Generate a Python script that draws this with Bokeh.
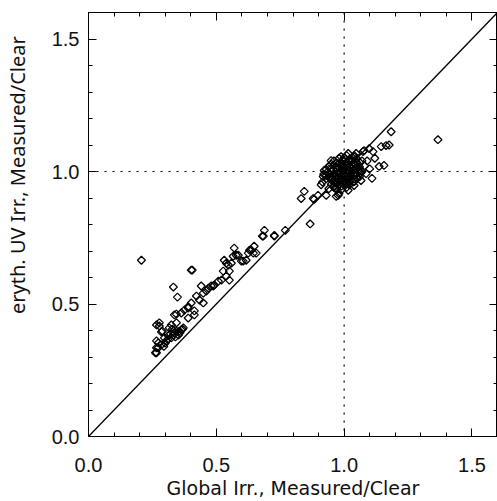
import numpy as np
from bokeh.plotting import figure
from bokeh.models import Range1d, LinearAxis, Span, Slope, FixedTicker
from bokeh.embed import file_html
from bokeh.resources import INLINE

# ---------------- data ----------------
# lower branch (cloudy cases)
low_x = [0.207, 0.262, 0.266, 0.273, 0.266, 0.277, 0.289, 0.266, 0.273, 0.266, 0.285, 0.297,
         0.305, 0.312, 0.324, 0.332, 0.336, 0.344, 0.352, 0.355, 0.363, 0.371, 0.316, 0.277,
         0.285, 0.344, 0.336, 0.363, 0.375, 0.390, 0.402, 0.390, 0.414, 0.422, 0.434, 0.441,
         0.449, 0.461, 0.469, 0.480, 0.492, 0.508, 0.520, 0.527, 0.539, 0.551, 0.551, 0.531,
         0.539, 0.547, 0.570, 0.586, 0.598, 0.617, 0.637, 0.656, 0.648, 0.332, 0.348, 0.402,
         0.406, 0.324, 0.344, 0.390, 0.414, 0.449, 0.488, 0.566, 0.605, 0.625, 0.645, 0.684,
         0.688, 0.727, 0.727, 0.770, 0.680, 0.630, 0.578, 0.559, 0.300, 0.310, 0.320, 0.340,
         0.358, 0.368, 0.295, 0.328]
low_y = [0.665, 0.316, 0.335, 0.353, 0.421, 0.429, 0.398, 0.361, 0.335, 0.316, 0.346, 0.372,
         0.361, 0.380, 0.372, 0.383, 0.391, 0.398, 0.383, 0.398, 0.402, 0.410, 0.410, 0.417,
         0.395, 0.429, 0.459, 0.466, 0.477, 0.485, 0.504, 0.447, 0.459, 0.530, 0.515, 0.568,
         0.541, 0.549, 0.560, 0.568, 0.571, 0.586, 0.590, 0.624, 0.605, 0.590, 0.624, 0.665,
         0.654, 0.647, 0.711, 0.684, 0.662, 0.665, 0.703, 0.692, 0.718, 0.564, 0.526, 0.628,
         0.628, 0.421, 0.462, 0.490, 0.474, 0.504, 0.568, 0.680, 0.662, 0.692, 0.692, 0.756,
         0.778, 0.759, 0.756, 0.778, 0.756, 0.703, 0.684, 0.654, 0.352, 0.366, 0.388, 0.376,
         0.392, 0.405, 0.340, 0.405]

# transition points
mid_x = [0.844, 0.832, 0.883, 0.930, 0.867, 0.898, 0.879, 0.977, 0.965, 0.969, 0.980, 1.016,
         0.910, 0.940]
mid_y = [0.925, 0.898, 0.895, 0.910, 0.802, 0.910, 0.898, 0.910, 0.936, 0.906, 0.917, 0.929,
         0.950, 0.935]

# clear-sky cluster near (1, 1)
clr_x = [0.98, 1.00, 1.02, 1.04, 0.95, 0.97, 0.99, 1.01, 1.03, 1.05, 1.07, 0.93, 0.95, 0.96,
         0.98, 1.00, 1.02, 1.04, 1.06, 1.08, 0.92, 0.94, 0.96, 0.98, 0.99, 1.01, 1.03, 1.05,
         1.07, 0.93, 0.95, 0.97, 0.99, 1.00, 1.02, 1.04, 1.06, 0.95, 0.97, 0.98, 1.00, 1.02,
         1.04, 0.97, 0.99, 1.01, 0.94, 0.96, 0.985, 1.005, 1.025, 1.045, 0.965, 0.975, 0.995,
         1.015, 1.035, 1.055, 0.945, 0.955, 1.065, 1.01, 0.99, 0.97, 1.03, 1.05, 0.93, 1.00,
         1.02, 0.96, 0.98, 1.04, 1.06, 0.99, 1.01,
         0.935, 0.945, 0.955, 0.965, 0.975, 0.985, 0.995, 1.005, 1.015, 1.025, 1.035, 1.045,
         0.950, 0.960, 0.970, 0.980, 0.990, 1.000, 1.010, 1.020, 1.030, 1.040, 1.050, 1.060,
         0.970, 0.980, 0.990, 1.000, 1.010, 1.020, 1.030, 1.040, 0.960, 0.990, 1.020, 1.050]
clr_y = [1.050, 1.052, 1.046, 1.055, 1.028, 1.032, 1.030, 1.035, 1.027, 1.033, 1.040, 1.008,
         1.012, 1.006, 1.014, 1.010, 1.016, 1.009, 1.018, 1.022, 0.990, 0.993, 0.988, 0.995,
         0.986, 0.992, 0.997, 0.990, 1.000, 0.972, 0.968, 0.975, 0.970, 0.966, 0.978, 0.972,
         0.980, 0.952, 0.955, 0.948, 0.950, 0.958, 0.962, 0.935, 0.932, 0.940, 1.020, 1.040,
         1.000, 0.980, 0.985, 1.025, 0.960, 0.995, 1.042, 1.002, 0.960, 1.005, 0.975, 0.985,
         0.995, 1.060, 1.020, 1.015, 1.045, 1.048, 0.985, 0.985, 1.000, 0.940, 0.965, 1.030,
         1.035, 1.005, 0.955,
         0.998, 0.980, 0.975, 0.982, 0.962, 0.960, 0.958, 0.955, 0.970, 0.968, 0.990, 0.995,
         1.000, 1.025, 1.012, 1.030, 1.018, 1.028, 1.022, 1.038, 1.012, 1.030, 1.015, 1.002,
         0.985, 0.998, 0.975, 1.020, 0.975, 1.005, 1.040, 0.985, 0.945, 0.945, 0.950, 0.975]

# points around the cluster edge / outliers
out_x = [1.367, 1.184, 1.145, 1.164, 1.176, 1.156, 1.137, 1.109, 1.047, 1.078, 1.113, 1.098,
         1.086, 1.066, 1.039, 0.918, 0.922, 0.949, 0.988, 1.016, 1.040, 1.074, 0.915, 1.090,
         1.120, 1.100]
out_y = [1.120, 1.150, 1.094, 1.098, 1.100, 1.023, 1.019, 0.974, 1.068, 1.079, 1.075, 1.086,
         0.992, 0.966, 0.947, 0.981, 1.004, 1.041, 1.056, 1.068, 1.060, 1.075, 0.960, 1.040,
         1.050, 1.010]

major_ticks = [0.0, 0.5, 1.0, 1.5]
minor_ticks = [0.1, 0.2, 0.3, 0.4, 0.6, 0.7, 0.8, 0.9, 1.1, 1.2, 1.3, 1.4, 1.6]
tick_labels = {0.0: "0.0", 0.5: "0.5", 1.0: "1.0", 1.5: "1.5"}
blank_labels = {0.0: "", 0.5: "", 1.0: "", 1.5: ""}
x_label = "Global Irr., Measured/Clear"
y_label = "eryth. UV Irr., Measured/Clear"
ref_level = 1.0

all_x = low_x + mid_x + clr_x + out_x
all_y = low_y + mid_y + clr_y + out_y

# ---------------- figure ----------------
TICK_FONT = "Liberation Sans"
XLAB_FONT = "DejaVu Sans"
YLAB_FONT = "Noto Sans"
TXT = "#111111"

p = figure(width=497, height=501, x_range=Range1d(0, 1.6), y_range=Range1d(0, 1.6),
           output_backend="svg", toolbar_location=None,
           min_border_left=87, min_border_top=12, min_border_right=0, min_border_bottom=62)
p.grid.visible = False
p.outline_line_color = "black"
p.outline_line_width = 1
p.background_fill_color = "white"
p.border_fill_color = "white"


def style_axis(ax, labels=True):
    ax.ticker = FixedTicker(ticks=major_ticks, minor_ticks=minor_ticks)
    ax.major_tick_in = 8
    ax.major_tick_out = 0
    ax.minor_tick_in = 4
    ax.minor_tick_out = 0
    ax.axis_line_color = "black"
    ax.major_tick_line_color = "black"
    ax.minor_tick_line_color = "black"
    if labels:
        ax.major_label_overrides = tick_labels
        ax.major_label_text_font = TICK_FONT
        ax.major_label_text_font_size = "20px"
        ax.major_label_text_color = TXT
    else:
        ax.major_label_overrides = blank_labels
        ax.major_label_standoff = 0


xa = p.xaxis[0]
ya = p.yaxis[0]
style_axis(xa)
style_axis(ya)
xa.axis_label = x_label
xa.axis_label_text_font = XLAB_FONT
xa.axis_label_text_font_size = "19px"
xa.axis_label_text_font_style = "normal"
xa.axis_label_text_color = TXT
xa.major_label_standoff = 21
xa.axis_label_standoff = 2

# the y title sits above the frame centre in the original: pad its start with
# non-breaking spaces so that the visible text is shifted upward
ya.axis_label = "\u00a0" * 19 + y_label
ya.axis_label_text_font = YLAB_FONT
ya.axis_label_text_font_size = "20px"
ya.axis_label_text_font_style = "normal"
ya.axis_label_text_color = TXT
ya.major_label_standoff = 9
ya.axis_label_standoff = 18

top_ax = LinearAxis()
right_ax = LinearAxis()
style_axis(top_ax, labels=False)
style_axis(right_ax, labels=False)
p.add_layout(top_ax, "above")
p.add_layout(right_ax, "right")

p.add_layout(Span(location=ref_level, dimension="height", line_color="black",
                  line_width=1.2, line_dash="2 6"))
p.add_layout(Span(location=ref_level, dimension="width", line_color="black",
                  line_width=1.2, line_dash="2 6"))
p.add_layout(Slope(gradient=1, y_intercept=0, line_color="black", line_width=1.3))

p.scatter(all_x, all_y, marker="square", angle=np.pi / 4, size=5.6,
          fill_color=None, line_color="black", line_width=1.25)

open("out.html", "w").write(file_html(p, INLINE))
